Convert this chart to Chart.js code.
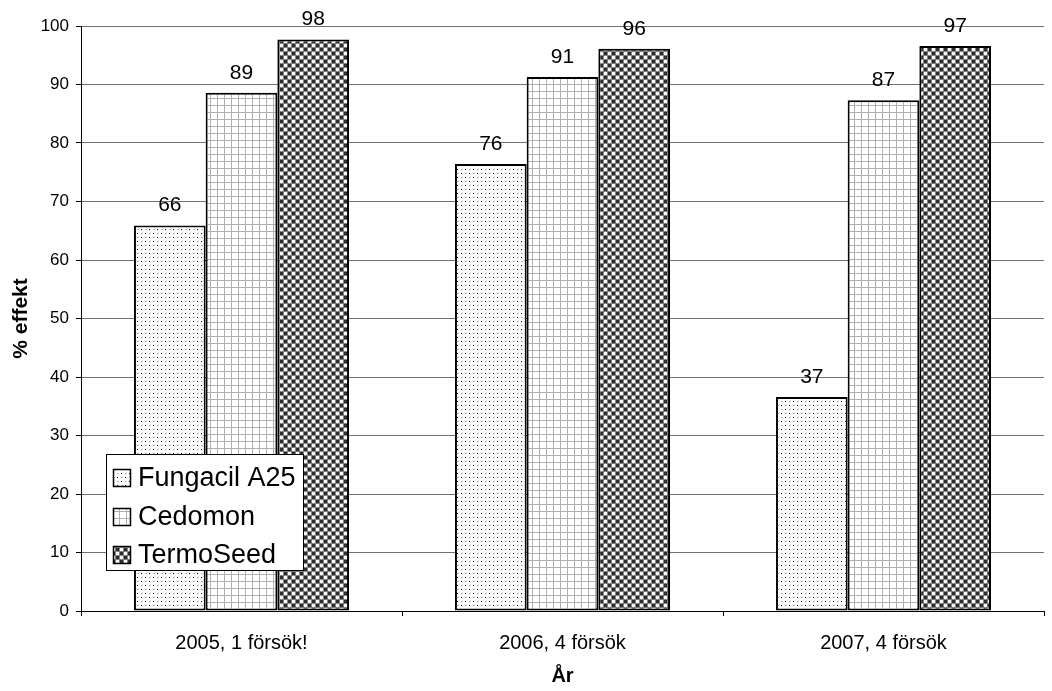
<!DOCTYPE html>
<html><head><meta charset="utf-8">
<script src="https://cdn.jsdelivr.net/npm/chart.js@4/dist/chart.umd.min.js"></script>
<style>html,body{margin:0;padding:0;background:#fff}canvas{display:block}</style>
</head><body>
<canvas id="c" width="1052" height="691" style="width:1052px;height:691px"></canvas>
<script>
const categories = ["2005, 1 försök!", "2006, 4 försök", "2007, 4 försök"];
const seriesNames = ["Fungacil A25", "Cedomon", "TermoSeed"];
const fungacil = [65.9, 76.4, 36.6];
const cedomon = [88.6, 91.3, 87.3];
const termoseed = [97.7, 96.1, 96.6];
const yTicks = [0, 10, 20, 30, 40, 50, 60, 70, 80, 90, 100];

function makePattern(kind) {
  const c = document.createElement('canvas');
  const ctx = c.getContext('2d');
  if (kind === 'dots') {
    c.width = 8; c.height = 8;
    ctx.fillStyle = '#fff'; ctx.fillRect(0, 0, 8, 8);
    ctx.fillStyle = '#000';
    ctx.fillRect(1, 1, 1, 1); ctx.fillRect(5, 5, 1, 1);
    ctx.fillStyle = '#bbb';
    ctx.fillRect(5, 1, 2, 1); ctx.fillRect(1, 5, 2, 1);
  } else if (kind === 'grid') {
    c.width = 7; c.height = 7;
    ctx.fillStyle = '#fff'; ctx.fillRect(0, 0, 7, 7);
    ctx.fillStyle = '#b0b0b0';
    ctx.fillRect(0, 0, 7, 1); ctx.fillRect(0, 0, 1, 7);
  } else {
    c.width = 8; c.height = 8;
    ctx.fillStyle = '#808080'; ctx.fillRect(0, 0, 8, 8);
    ctx.fillStyle = '#2e2e2e';
    ctx.fillRect(0, 0, 3, 3); ctx.fillRect(4, 4, 3, 3);
    ctx.fillStyle = '#fafafa';
    ctx.fillRect(4, 0, 3, 3); ctx.fillRect(0, 4, 3, 3);
  }
  return document.getElementById('c').getContext('2d').createPattern(c, 'repeat');
}
const patterns = [makePattern('dots'), makePattern('grid'), makePattern('checker')];
const FAM = '"Liberation Sans", Arial, sans-serif';

const dataLabels = {
  id: 'dataLabels',
  afterDatasetsDraw(chart) {
    const ctx = chart.ctx;
    ctx.save();
    ctx.font = '21px ' + FAM;
    ctx.fillStyle = '#000';
    ctx.textAlign = 'center';
    ctx.textBaseline = 'alphabetic';
    chart.data.datasets.forEach((ds, i) => {
      chart.getDatasetMeta(i).data.forEach((bar, j) => {
        ctx.fillText(String(Math.round(ds.data[j])), bar.x, bar.y - 14);
      });
    });
    ctx.restore();
  }
};

const boxLegend = {
  id: 'boxLegend',
  afterDraw(chart) {
    const ctx = chart.ctx;
    ctx.save();
    const x0 = 106.5, y0 = 454.5, w = 197, h = 116;
    ctx.fillStyle = '#fff';
    ctx.fillRect(x0, y0, w, h);
    ctx.strokeStyle = '#000'; ctx.lineWidth = 1;
    ctx.strokeRect(x0, y0, w, h);
    ctx.font = '27px ' + FAM;
    ctx.textBaseline = 'alphabetic';
    ctx.textAlign = 'left';
    seriesNames.forEach((name, i) => {
      const base = 486 + i * 38.5;
      const sy = Math.round(base - 16);
      ctx.fillStyle = patterns[i];
      ctx.fillRect(114, sy, 16, 16);
      ctx.strokeStyle = '#000';
      ctx.lineWidth = 1.5;
      ctx.strokeRect(113.5, sy - 0.5, 17, 17);
      ctx.fillStyle = '#000';
      ctx.fillText(name, 138, base);
    });
    ctx.restore();
  }
};

new Chart(document.getElementById('c'), {
  type: 'bar',
  data: {
    labels: categories,
    datasets: [fungacil, cedomon, termoseed].map((d, i) => ({
      label: seriesNames[i],
      data: d,
      backgroundColor: patterns[i],
      borderColor: '#000',
      borderWidth: 2,
      borderSkipped: false,
      categoryPercentage: 0.67,
      barPercentage: 1.0
    }))
  },
  options: {
    responsive: false,
    animation: false,
    devicePixelRatio: 1,
    layout: { padding: { top: 26, right: 8, left: 0, bottom: 0 } },
    plugins: { legend: { display: false }, tooltip: { enabled: false } },
    scales: {
      x: {
        grid: { offset: true, drawOnChartArea: false, drawTicks: true, tickLength: 5, color: '#000' },
        border: { color: '#000', width: 1 },
        ticks: { font: { family: FAM, size: 20 }, color: '#000', padding: 15, maxRotation: 0 },
        title: { display: true, text: 'År', font: { family: FAM, size: 20, weight: 'bold' }, color: '#000', padding: { top: 0, bottom: 3 } },
        afterFit(s) { s.height = 80; }
      },
      y: {
        min: 0, max: 100,
        afterBuildTicks(s) { s.ticks = yTicks.map(v => ({ value: v })); },
        grid: { color: '#707070', tickLength: 5, tickColor: '#000' },
        border: { color: '#000', width: 1 },
        ticks: { font: { family: FAM, size: 17 }, color: '#000', padding: 7 },
        title: { display: true, text: '% effekt', font: { family: FAM, size: 21, weight: 'bold' }, color: '#000', padding: { top: 9, bottom: 0 } },
        afterFit(s) { s.width = 81; }
      }
    }
  },
  plugins: [dataLabels, boxLegend]
});
</script>
</body></html>
